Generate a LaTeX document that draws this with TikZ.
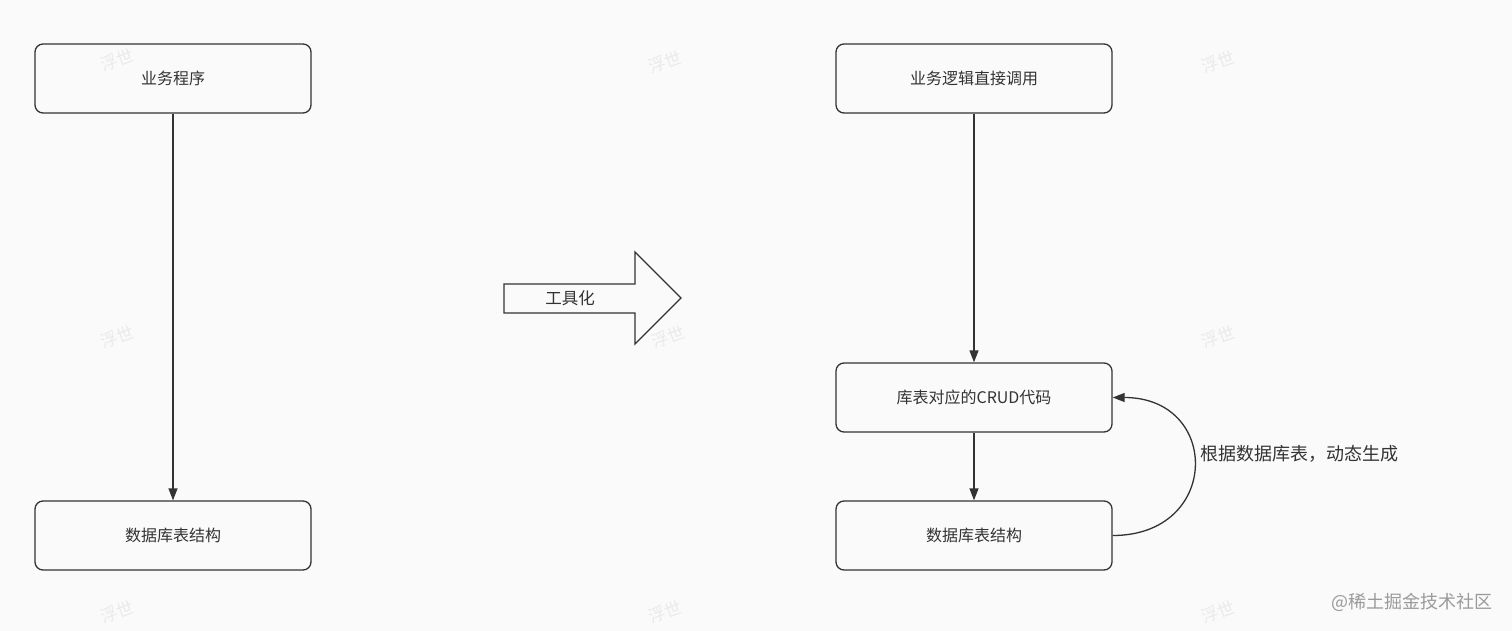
\documentclass[tikz,border=0pt]{standalone}
\usepackage{fontspec}
\newfontfamily\cjk{Noto Sans CJK SC}
\usetikzlibrary{arrows.meta}
\definecolor{bgc}{HTML}{FAFAFA}
\definecolor{ln}{HTML}{333333}
\definecolor{tx}{HTML}{333333}
\definecolor{wm}{HTML}{EAEAEA}
\definecolor{sig}{HTML}{9A9A9A}
\tikzset{
  box/.style={draw=ln, line width=1.3pt, rounded corners=8pt, minimum width=276pt, minimum height=69pt, inner sep=0pt, font=\cjk\fontsize{16}{18}\selectfont, text=tx, fill=bgc},
  conn/.style={draw=ln, line width=1.3pt, -{Triangle[length=12pt,width=9pt]}},
  wmark/.style={font=\cjk\fontsize{17}{19}\selectfont, text=wm, rotate=20, inner sep=0pt},
  lbl/.style={font=\cjk\fontsize{16.5}{19}\selectfont, text=tx, inner sep=0pt}
}
\begin{document}
\begin{tikzpicture}[x=1pt,y=-1pt]
\fill[bgc] (0,0) rectangle (1512,631);
\useasboundingbox (0,0) rectangle (1512,631);
% left
\node[box] (a1) at (173,78.5) {业务程序};
\node[box] (a2) at (173,535.5) {数据库表结构};
\draw[conn] (a1) -- (a2);
% big arrow
\draw[ln, line width=1.3pt, fill=bgc, line join=miter]
  (504,284) -- (635,284) -- (635,252) -- (681,298) -- (635,344) -- (635,313) -- (504,313) -- cycle;
\node[lbl] (tool) at (570,298) {工具化};
% right
\node[box] (b1) at (974,78.5) {业务逻辑直接调用};
\node[box] (b2) at (974,397.5) {库表对应的CRUD代码};
\node[box] (b3) at (974,535.5) {数据库表结构};
\draw[conn] (b1) -- (b2);
\draw[conn] (b2) -- (b3);
\draw[conn] (b3.east) .. controls (1221,535.5) and (1221,397.5) .. (b2.east);
\node[font=\cjk\fontsize{18}{20}\selectfont, text=tx, inner sep=0pt, anchor=west] (gen) at (1200,454) {根据数据库表，动态生成};
\node[font=\cjk\fontsize{18}{20}\selectfont, text=sig, anchor=west, inner sep=0pt] (sign) at (1331,602) {@稀土掘金技术社区};
% watermarks
\foreach \wx/\wy [count=\i] in {117/60,665/62,1218/62,117/337,668/337,1218/337,117/612,665/612,1218/612}
  \node[wmark] (wm\i) at (\wx,\wy) {浮世};
\end{tikzpicture}
\end{document}
